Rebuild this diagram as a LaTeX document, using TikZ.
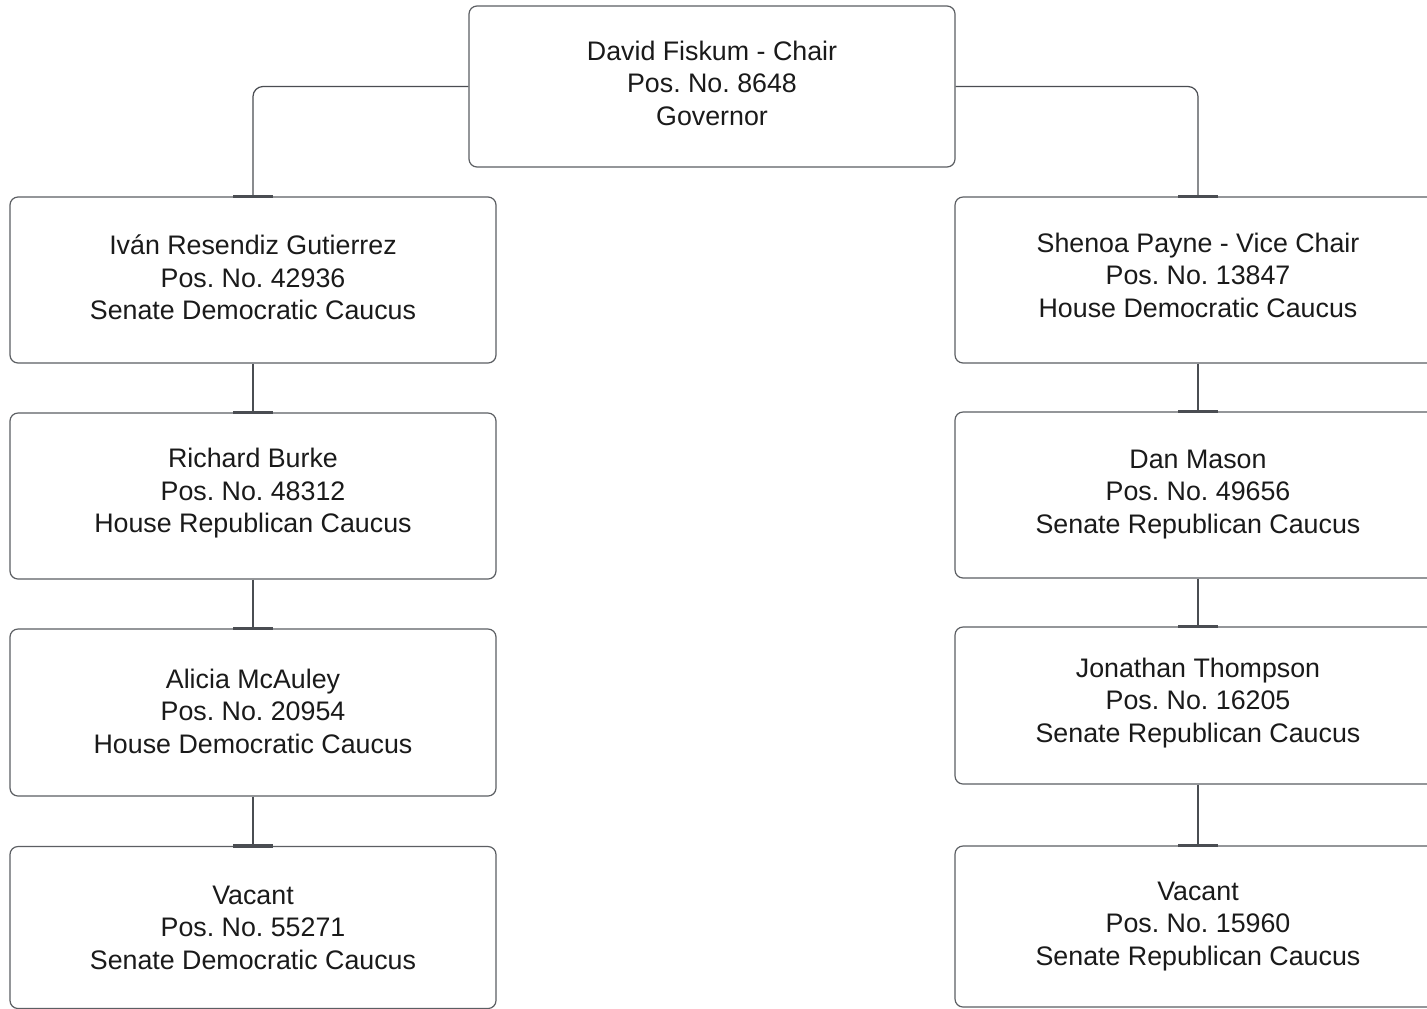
\documentclass[tikz,border=0pt]{standalone}
\usepackage{fontspec}
\setmainfont{Liberation Sans}
\frenchspacing
\definecolor{boxline}{HTML}{5C5F63}
\definecolor{connline}{HTML}{4A4D52}
\definecolor{txt}{HTML}{1A1A1A}
\begin{document}
\begin{tikzpicture}[x=0.5pt,y=-0.5pt,
  orgbox/.style={draw=boxline, line width=0.6pt, rounded corners=4pt, fill=white,
    minimum width=243pt, inner sep=0pt, align=center, text=txt,
    font=\fontsize{13.4}{16.25}\selectfont\frenchspacing},
  conn/.style={draw=connline, line width=0.6pt, rounded corners=5pt},
  endbar/.style={draw=connline, line width=1.6pt}]
\clip (0,0) rectangle (1427,1008);
\fill[white] (0,0) rectangle (1427,1008);
% top
\node[orgbox, minimum height=80.5pt, text depth=3.7pt] (top) at (712,86.5) {David Fiskum - Chair\\Pos. No. 8648\\Governor};
% left column
\node[orgbox, minimum height=83pt, text depth=2.5pt] (l1) at (253,280) {Iván Resendiz Gutierrez\\Pos. No. 42936\\Senate Democratic Caucus};
\node[orgbox, minimum height=83pt, text depth=5.3pt] (l2) at (253,496) {Richard Burke\\Pos. No. 48312\\House Republican Caucus};
\node[orgbox, minimum height=83.5pt, text depth=1.3pt] (l3) at (253,712.5) {Alicia McAuley\\Pos. No. 20954\\House Democratic Caucus};
\node[orgbox, minimum height=81pt, text depth=0pt] (l4) at (253,927.5) {Vacant\\Pos. No. 55271\\Senate Democratic Caucus};
% right column
\node[orgbox, minimum height=83pt, text depth=5pt] (r1) at (1198,280) {Shenoa Payne - Vice Chair\\Pos. No. 13847\\House Democratic Caucus};
\node[orgbox, minimum height=83pt, text depth=3.5pt] (r2) at (1198,495) {Dan Mason\\Pos. No. 49656\\Senate Republican Caucus};
\node[orgbox, minimum height=78.5pt, text depth=5.5pt] (r3) at (1198,705.5) {Jonathan Thompson\\Pos. No. 16205\\Senate Republican Caucus};
\node[orgbox, minimum height=80.5pt, text depth=3.1pt] (r4) at (1198,926.5) {Vacant\\Pos. No. 15960\\Senate Republican Caucus};
% connectors
\draw[conn] (top.west) -| (l1.north);
\draw[conn] (top.east) -| (r1.north);
\draw[conn] (l1.south) -- (l2.north);
\draw[conn] (l2.south) -- (l3.north);
\draw[conn] (l3.south) -- (l4.north);
\draw[conn] (r1.south) -- (r2.north);
\draw[conn] (r2.south) -- (r3.north);
\draw[conn] (r3.south) -- (r4.north);
% end bars
\foreach \n in {l1,l2,l3,l4,r1,r2,r3,r4}{
  \draw[endbar] ([xshift=-10pt]\n.north) -- ([xshift=10pt]\n.north);
}
\end{tikzpicture}
\end{document}
